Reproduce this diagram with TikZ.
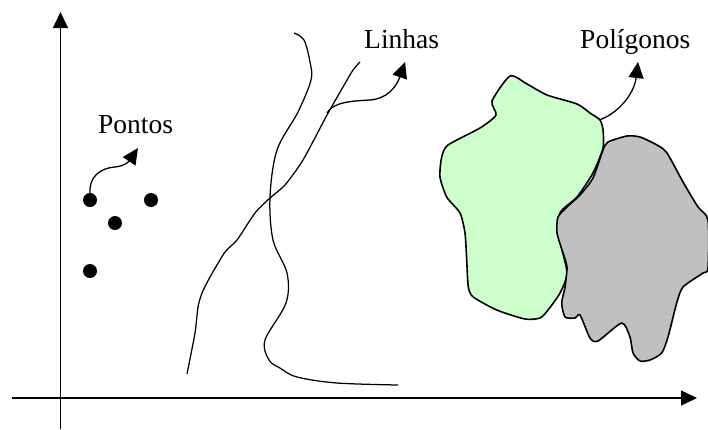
\documentclass[tikz,border=0pt]{standalone}
\usepackage{fontspec}
\setmainfont{Liberation Serif}
\usetikzlibrary{arrows.meta}
\definecolor{polygreen}{RGB}{204,255,204}
\definecolor{polygray}{RGB}{192,192,192}
\tikzset{
  axis/.style={line width=1.4pt,-{Triangle[length=16pt,width=15pt]}},
  arr/.style={line width=1.3pt,-{Triangle[length=16pt,width=15pt]}},
  curve/.style={line width=1.25pt},
  poly/.style={line width=1.6pt,line join=round},
  dot/.style={circle,fill=black,minimum size=14pt,inner sep=0pt},
  lbl/.style={anchor=base west,inner sep=0pt,font=\fontsize{27.5}{33}\selectfont}
}
\begin{document}
\begin{tikzpicture}[x=1pt,y=-1pt]
\useasboundingbox (0,0) rectangle (708,429);
% axes
\coordinate (xs) at (12,398);
\coordinate (xe) at (697,398);
\coordinate (ys) at (60.5,429);
\coordinate (ye) at (60.5,12);
\draw[axis] (xs) -- (xe);
\draw[axis] (ys) -- (ye);
% points
\node[dot] (p1) at (90,200) {};
\node[dot] (p2) at (151,200) {};
\node[dot] (p3) at (115,223) {};
\node[dot] (p4) at (90,271) {};
% labels
\node[lbl] (pontos) at (98,133) {Pontos};
\node[lbl] (linhas) at (364,48.5) {Linhas};
\node[lbl] (poligonos) at (580,48.5) {Polígonos};
% lines
\draw[curve] plot[smooth,tension=0.55] coordinates {(294,33) (304,40) (310,62) (311,80) (298,112) (277,150) (270,197) (273,240) (287,273) (286,303) (265,340) (269,360) (280,368) (297,377) (337,383) (398,385)};
\draw[curve] plot[smooth,tension=0.4] coordinates {(187,374) (195,333) (198,307) (202,293) (210,277) (225,252) (237,240) (255,213) (270,198) (285,185) (303,160) (327,115) (343,87) (353,70) (360,62)};
% polygons
\draw[poly,fill=polygreen] plot[smooth cycle,tension=0.4] coordinates {(510,76) (492,101) (496,115) (480,128) (448,145) (441.7,157) (440,177) (446.7,197) (460,213) (465,233) (466.7,260) (468.3,287) (473.3,297) (496.7,310) (525,319) (540,318) (548,310) (560,293) (567,273) (560,240) (560,213) (577,197) (593,173) (603,148) (603,130) (600,120) (590,113) (577,104) (547,95) (527,84)};
\draw[poly,fill=polygray] plot[smooth cycle,tension=0.4] coordinates {(627,136) (608,142) (603,150) (593,178) (580,195) (567,207) (558,217) (557,233) (563,253) (567,267) (565,287) (561.7,303) (565,317) (575,318) (580,315) (590,338) (598,341) (621.7,323) (630,337) (633,353) (640,361) (650,360) (661.7,353) (668,337) (676.7,303) (683,287) (703,273) (708,268) (708,220) (698,207) (683,182) (667,153) (657,145) (640,137)};
% arrows
\coordinate (tipP) at (138,148);
\coordinate (tipL) at (405,62);
\coordinate (tipG) at (638,62);
\coordinate (startL) at (327,113);
\coordinate (startG) at (599,120);
\draw[arr] (p1.north) .. controls (89,177) and (100,168) .. (115,167) .. controls (126,166) and (130,160) .. (tipP);
\draw[arr] (startL) .. controls (333,102) and (352,101) .. (370,100) .. controls (386,99) and (396,88) .. (tipL);
\draw[arr] (startG) .. controls (617,114) and (634,95) .. (tipG);
\end{tikzpicture}
\end{document}
